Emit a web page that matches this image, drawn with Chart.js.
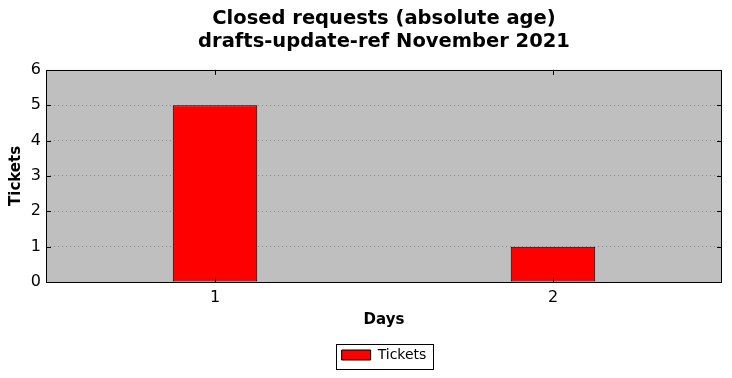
<!DOCTYPE html>
<html><head><meta charset="utf-8">
<script src="https://cdn.jsdelivr.net/npm/chart.js@4/dist/chart.umd.min.js"></script>
<style>html,body{margin:0;padding:0;background:#fff}#c{display:block}</style>
</head><body>
<canvas id="c" width="732" height="378"></canvas>
<script>
const categories = ["1", "2"];
const tickets = [5, 1];
const yTicks = [0, 1, 2, 3, 4, 5, 6];
const titleLines = ["Closed requests (absolute age)", "drafts-update-ref November 2021"];

const FONT = "'DejaVu Sans', sans-serif";
const LEGEND_FONT = 14, LEGEND_BOX = 29;

const frame = {
  id: 'frame',
  afterLayout(chart) {
    const a = chart.chartArea;
    const tb = chart.titleBlock;
    if (tb) { tb.left = a.left; tb.right = a.right; tb.width = a.right - a.left; }
    const lg = chart.legend;
    if (lg) { lg.left = a.left; lg.right = a.right; lg.width = a.right - a.left; }
  },
  beforeDraw(chart) {
    const a = chart.chartArea, ctx = chart.ctx;
    ctx.save();
    ctx.fillStyle = '#bfbfbf';
    ctx.fillRect(a.left, a.top, a.right - a.left, a.bottom - a.top);
    ctx.restore();
  },
  afterDraw(chart) {
    const a = chart.chartArea, ctx = chart.ctx;
    ctx.save();
    ctx.strokeStyle = '#000';
    ctx.lineWidth = 1;
    ctx.strokeRect(Math.round(a.left) + 0.5, Math.round(a.top) + 0.5, Math.round(a.right - a.left) - 1, Math.round(a.bottom - a.top));
    const ys = chart.scales.y, xs = chart.scales.x;
    ctx.beginPath();
    yTicks.forEach(v => {
      const y = Math.round(ys.getPixelForValue(v)) + 0.5;
      ctx.moveTo(a.left, y); ctx.lineTo(a.left + 5, y);
      ctx.moveTo(a.right, y); ctx.lineTo(a.right - 5, y);
    });
    categories.forEach((c, i) => {
      const x = Math.round(xs.getPixelForValue(i)) + 0.5;
      ctx.moveTo(x, a.bottom); ctx.lineTo(x, a.bottom - 5);
      ctx.moveTo(x, a.top); ctx.lineTo(x, a.top + 5);
    });
    ctx.stroke();
    const lg = chart.legend;
    if (lg) {
      ctx.font = LEGEND_FONT + "px " + FONT;
      const tw = ctx.measureText(chart.data.datasets[0].label).width;
      const w = LEGEND_BOX + LEGEND_FONT / 2 + tw + 12;
      const cx = (lg.left + lg.right) / 2;
      const cy = lg.top + lg.height / 2;
      ctx.strokeRect(Math.round(cx - w / 2) + 0.5, Math.round(cy - 12.5) + 0.5, Math.round(w), 25);
    }
    ctx.restore();
  }
};

new Chart(document.getElementById('c'), {
  type: 'bar',
  data: {
    labels: categories,
    datasets: [{
      label: 'Tickets',
      data: tickets,
      backgroundColor: '#ff0000',
      borderColor: '#000000',
      borderWidth: 1,
      borderSkipped: false,
      barPercentage: 0.25,
      categoryPercentage: 1.0
    }]
  },
  options: {
    responsive: false,
    animation: false,
    devicePixelRatio: 1,
    layout: { padding: { left: 0, right: 10, top: 0, bottom: 6 } },
    plugins: {
      title: {
        display: true,
        text: titleLines,
        color: '#000',
        font: { family: FONT, size: 19.5, weight: 'bold', lineHeight: 1.15 },
        padding: { top: 8, bottom: 17 }
      },
      legend: {
        display: true,
        position: 'bottom',
        labels: {
          color: '#000',
          font: { family: FONT, size: LEGEND_FONT },
          boxWidth: LEGEND_BOX,
          boxHeight: 10,
          padding: 8,
          generateLabels(chart) {
            const ds = chart.data.datasets[0];
            return [{ text: ds.label, fillStyle: ds.backgroundColor, strokeStyle: '#000', lineWidth: 1, datasetIndex: 0 }];
          }
        }
      },
      tooltip: { enabled: false }
    },
    scales: {
      x: {
        grid: { display: false, drawTicks: false },
        border: { display: false },
        ticks: { color: '#000', font: { family: FONT, size: 16 }, padding: 6, maxRotation: 0 },
        title: { display: true, text: 'Days', color: '#000', font: { family: FONT, size: 15, weight: 'bold' }, padding: { top: 4, bottom: 11 } },
        afterFit(s) { s.height = 58; }
      },
      y: {
        min: 0, max: 6,
        afterBuildTicks(s) { s.ticks = yTicks.map(v => ({ value: v })); },
        grid: {
          display: true,
          color: c => (c.tick && (c.tick.value === 0 || c.tick.value === 6)) ? 'rgba(0,0,0,0)' : '#8a8a8a',
          lineWidth: 1, drawTicks: false
        },
        border: { display: false, dash: [1, 3] },
        ticks: { color: '#000', font: { family: FONT, size: 16 }, padding: 5 },
        title: { display: true, text: 'Tickets', color: '#000', font: { family: FONT, size: 15, weight: 'bold' }, padding: { top: 7, bottom: 0 } },
        afterFit(s) { s.width = 46; }
      }
    }
  },
  plugins: [frame]
});
</script>
</body></html>
